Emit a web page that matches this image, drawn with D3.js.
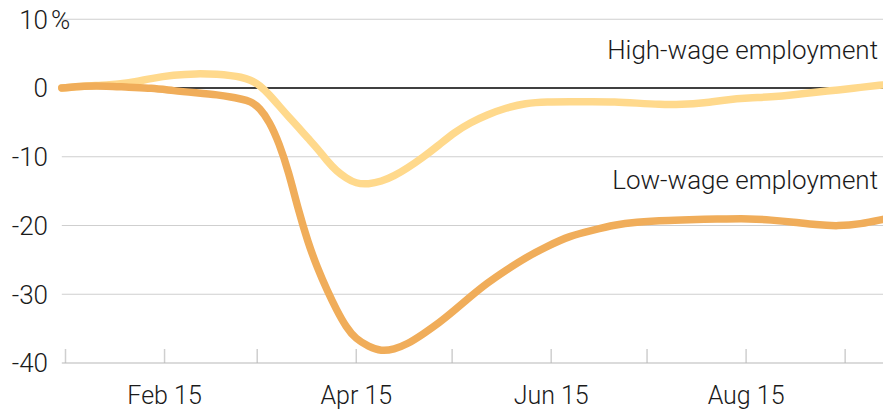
<!DOCTYPE html>
<html>
<head>
<meta charset="utf-8">
<script src="https://cdn.jsdelivr.net/npm/d3@7"></script>
<style>
  html, body { margin: 0; padding: 0; background: #fff; }
  svg { display: block; }
  text { font-family: Roboto, "Noto Sans", sans-serif; font-weight: 300; fill: #1a1a1a; }
</style>
</head>
<body>
<svg id="chart" width="883" height="412"></svg>
<script>
// ---- data ----
const dates = ["2020-01-14","2020-01-21","2020-01-28","2020-02-04","2020-02-11","2020-02-18","2020-02-25",
  "2020-03-03","2020-03-07","2020-03-10","2020-03-13","2020-03-16","2020-03-19","2020-03-22","2020-03-25",
  "2020-03-28","2020-03-31","2020-04-03","2020-04-06","2020-04-09","2020-04-12","2020-04-15","2020-04-19",
  "2020-04-23","2020-04-27","2020-05-01","2020-05-06","2020-05-11","2020-05-16","2020-05-21","2020-05-26",
  "2020-06-01","2020-06-07","2020-06-14","2020-06-21","2020-06-28","2020-07-05","2020-07-12","2020-07-19",
  "2020-07-26","2020-08-02","2020-08-09","2020-08-16","2020-08-23","2020-08-30","2020-09-06","2020-09-13",
  "2020-09-20","2020-09-27"];
const highWage = [0, 0.3, 0.4, 0.7, 1.4, 1.9, 2.1,
  2.0, 1.8, 1.6, 1.2, 0.4, -1.0, -2.6, -4.2,
  -5.7, -7.3, -8.8, -10.6, -12.1, -13.1, -13.9, -14.0,
  -13.6, -12.8, -11.7, -10.1, -8.3, -6.4, -5.0, -3.9,
  -2.9, -2.2, -2.0, -2.0, -2.0, -2.0, -2.2, -2.4,
  -2.4, -2.2, -1.7, -1.45, -1.3, -1.0, -0.6, -0.3,
  0.1, 0.45];
const lowWage = [0, 0.3, 0.3, 0.1, 0.0, -0.4, -0.7,
  -1.0, -1.3, -1.6, -1.9, -2.9, -4.9, -8.0, -12.2,
  -17.7, -22.4, -26.2, -29.4, -32.3, -34.8, -36.5, -37.6,
  -38.3, -38.0, -37.3, -35.8, -34.2, -32.3, -30.3, -28.4,
  -26.5, -24.7, -23.0, -21.5, -20.7, -19.9, -19.5, -19.3,
  -19.2, -19.1, -19.05, -19.0, -19.2, -19.5, -19.9, -20.1,
  -19.8, -19.1];
const yTicks = [10, 0, -10, -20, -30, -40];
const yTickLabels = ["10", "0", "-10", "-20", "-30", "-40"];
const xTickDates = ["2020-01-15","2020-02-15","2020-03-15","2020-04-15","2020-05-15",
  "2020-06-15","2020-07-15","2020-08-15","2020-09-15"];
const xTickLabels = ["", "Feb 15", "", "Apr 15", "", "Jun 15", "", "Aug 15", ""];
const seriesNames = ["High-wage employment", "Low-wage employment"];
const seriesColors = ["#FFD98C", "#F0AD5A"];

// ---- chart ----
const parse = d3.utcParse("%Y-%m-%d");
const svg = d3.select("#chart");
const x = d3.scaleUtc().domain([parse("2020-01-15"), parse("2020-09-27")]).range([65, 883]);
const y = d3.scaleLinear().domain([-40, 10]).range([363, 19.25]);
const x0 = x(parse("2020-01-14")), x1 = 883;

// gridlines
svg.append("g").selectAll("line").data(yTicks.filter(v => v !== 0 && v !== -40)).join("line")
  .attr("x1", x0).attr("x2", x1).attr("y1", d => y(d)).attr("y2", d => y(d))
  .attr("stroke", "#cfcfcf").attr("stroke-width", 1);

// x axis
const xAxis = d3.axisBottom(x)
  .tickValues(xTickDates.map(parse))
  .tickSizeInner(-14).tickSizeOuter(0).tickPadding(23)
  .tickFormat((d, i) => xTickLabels[i]);
const gx = svg.append("g").attr("transform", `translate(0,${y(-40)})`).call(xAxis);
gx.select(".domain").remove();
gx.selectAll(".tick line").attr("stroke", "#cfcfcf").attr("stroke-width", 1.5);
gx.selectAll(".tick text").attr("font-size", 25).attr("font-family", "Roboto").attr("font-weight", 300).attr("fill", "#1a1a1a");
svg.append("line").attr("x1", x0).attr("x2", x1).attr("y1", y(-40)).attr("y2", y(-40))
  .attr("stroke", "#b8b8b8").attr("stroke-width", 1.2);

// zero line
svg.append("line").attr("x1", x0).attr("x2", x1).attr("y1", y(0)).attr("y2", y(0))
  .attr("stroke", "#000").attr("stroke-width", 1.5);

// y labels
const gy = svg.append("g");
gy.selectAll("text").data(yTicks).join("text")
  .attr("x", 48).attr("y", d => y(d)).attr("dy", "0.36em")
  .attr("text-anchor", "end").attr("font-size", 26)
  .text((d, i) => yTickLabels[i]);
gy.append("text").attr("x", 51).attr("y", y(10)).attr("dy", "0.36em")
  .attr("font-size", 26).text("%");

// lines
const line = d3.line().x((d, i) => x(parse(dates[i]))).y(d => y(d)).curve(d3.curveBasis);
[highWage, lowWage].forEach((s, k) => {
  svg.append("path").datum(s).attr("d", line)
    .attr("fill", "none").attr("stroke", seriesColors[k]).attr("stroke-width", 7.5)
    .attr("stroke-linecap", "round").attr("stroke-linejoin", "round");
});

// series labels
svg.append("text").attr("x", 878).attr("y", 59).attr("text-anchor", "end").attr("font-size", 26).text(seriesNames[0]);
svg.append("text").attr("x", 878).attr("y", 189).attr("text-anchor", "end").attr("font-size", 26).text(seriesNames[1]);
</script>
</body>
</html>
